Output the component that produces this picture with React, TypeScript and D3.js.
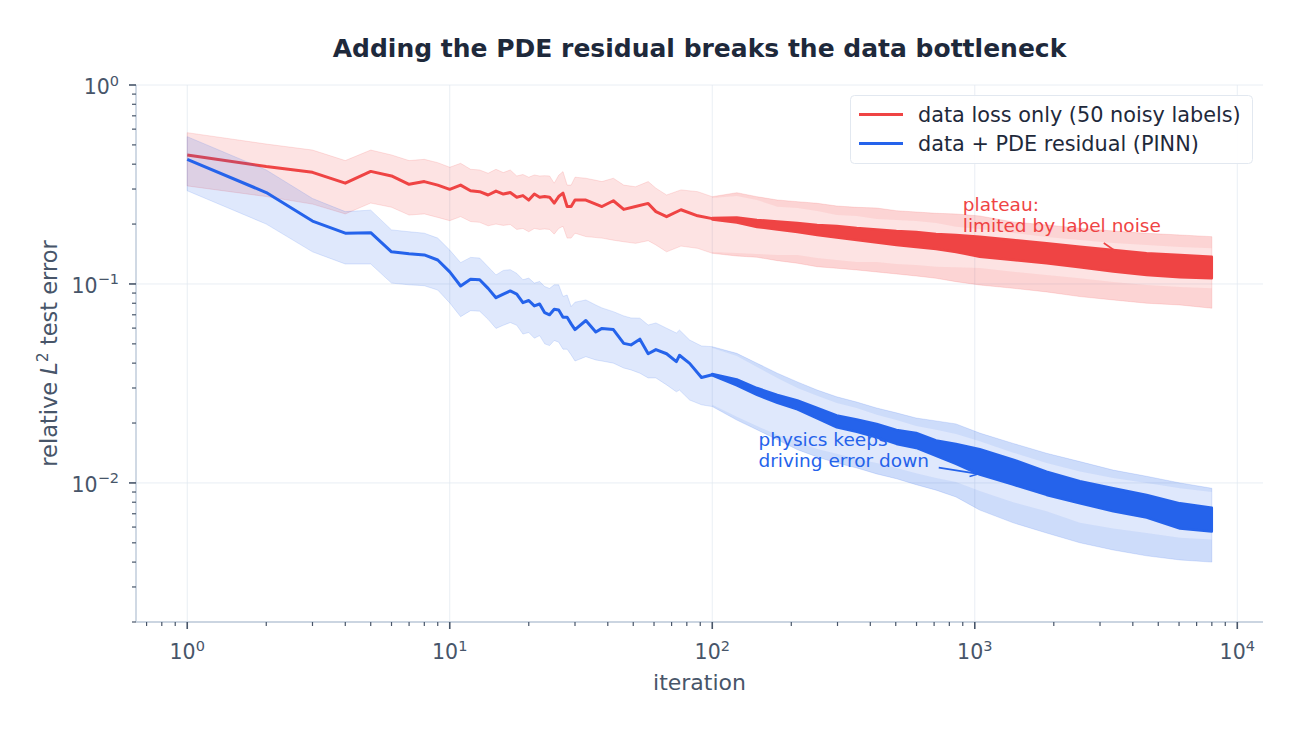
import * as d3 from "d3";

// ---- data (iteration vs relative L2 test error) ----

// sparse early part, one point per logged iteration
const redEarlyIter = [
  1, 2, 3, 4, 5, 6, 7, 8, 9, 10, 11, 12, 13, 14, 15, 16, 17, 18, 19, 20, 21, 22, 23, 24, 25, 26, 27, 28, 29, 30,
  33, 38, 42, 46, 51, 57, 61, 67, 76, 88, 100,
];
const redEarlyLine = [
  0.445, 0.389, 0.364, 0.321, 0.368, 0.349, 0.317, 0.327, 0.314, 0.299, 0.314, 0.294, 0.291, 0.28, 0.293,
  0.283, 0.288, 0.273, 0.278, 0.264, 0.283, 0.273, 0.275, 0.273, 0.255, 0.275, 0.286, 0.245, 0.245, 0.264,
  0.264, 0.245, 0.262, 0.237, 0.245, 0.254, 0.231, 0.218, 0.236, 0.22, 0.213,
];
const redEarlyUp = [
  0.576, 0.505, 0.471, 0.417, 0.471, 0.445, 0.417, 0.423, 0.407, 0.386, 0.404, 0.377, 0.374, 0.36, 0.377,
  0.363, 0.374, 0.349, 0.355, 0.344, 0.353, 0.349, 0.35, 0.349, 0.321, 0.352, 0.367, 0.314, 0.314, 0.344,
  0.34, 0.327, 0.34, 0.314, 0.308, 0.327, 0.303, 0.28, 0.297, 0.291, 0.2746,
];
const redEarlyLo = [
  0.311, 0.275, 0.252, 0.225, 0.255, 0.243, 0.222, 0.225, 0.216, 0.208, 0.218, 0.206, 0.204, 0.196, 0.2,
  0.197, 0.199, 0.188, 0.19, 0.183, 0.19, 0.188, 0.189, 0.188, 0.178, 0.19, 0.195, 0.17, 0.17, 0.18,
  0.173, 0.17, 0.166, 0.163, 0.16, 0.165, 0.157, 0.145, 0.155, 0.151, 0.1426,
];

const blueEarlyIter = [
  1, 2, 3, 4, 5, 6, 7, 8, 9, 10, 11, 12, 13, 14, 15, 16, 17, 18, 19, 20, 21, 22, 23, 24, 25, 26, 27, 28, 29, 30,
  33, 36, 38, 42, 46, 49, 53, 57, 61, 67, 73, 75, 82, 91, 100,
];
const blueEarlyLine = [
  0.423, 0.288, 0.207, 0.18, 0.181, 0.145, 0.142, 0.14, 0.132, 0.115, 0.0977, 0.1057, 0.105, 0.095, 0.0853,
  0.089, 0.0922, 0.089, 0.0805, 0.0826, 0.0776, 0.0793, 0.0717, 0.07, 0.0746, 0.074, 0.068, 0.068, 0.063, 0.059,
  0.0655, 0.0574, 0.0598, 0.059, 0.0503, 0.0494, 0.0528, 0.0446, 0.0468, 0.0446, 0.0407, 0.0438, 0.0399, 0.0339, 0.035,
];
const blueEarlyUp = [
  0.55, 0.374, 0.269, 0.231, 0.235, 0.187, 0.183, 0.18, 0.17, 0.148, 0.128, 0.136, 0.135, 0.122, 0.111,
  0.117, 0.118, 0.113, 0.105, 0.107, 0.101, 0.103, 0.097, 0.095, 0.099, 0.099, 0.0866, 0.088, 0.077, 0.081,
  0.0831, 0.0784, 0.0758, 0.0726, 0.0691, 0.0675, 0.0673, 0.0622, 0.0637, 0.0599, 0.0567, 0.0587, 0.0523, 0.0488, 0.0484,
];
const blueEarlyLo = [
  0.294, 0.2, 0.145, 0.126, 0.126, 0.101, 0.099, 0.098, 0.0932, 0.0803, 0.0685, 0.0734, 0.073, 0.0664, 0.0598,
  0.062, 0.064, 0.062, 0.056, 0.057, 0.0534, 0.055, 0.05, 0.049, 0.052, 0.051, 0.047, 0.047, 0.044, 0.041,
  0.0431, 0.0415, 0.041, 0.04, 0.0378, 0.037, 0.0356, 0.0337, 0.0337, 0.0311, 0.0287, 0.0293, 0.0261, 0.0247, 0.0242,
];

// dense part (every iteration logged): envelopes of the noisy curve and of its band
const denseIter = [100, 124, 148, 177, 211, 251, 298, 355, 423, 503, 598, 712, 848, 1045, 1401, 1877, 2515, 3370, 4515, 6050, 8000];

const redBandUpOuter = [0.2746, 0.2876, 0.2746, 0.2643, 0.2592, 0.2544, 0.2466, 0.2428, 0.2409, 0.2335, 0.23, 0.2266, 0.2248, 0.2197, 0.2049, 0.1979, 0.1905, 0.1846, 0.1797, 0.1763, 0.1729];
const redBandUpInner = [0.2705, 0.2768, 0.2643, 0.2446, 0.2409, 0.2327, 0.2222, 0.2197, 0.2122, 0.2097, 0.2073, 0.2025, 0.194, 0.1889, 0.1804, 0.1722, 0.1664, 0.1607, 0.157, 0.1534, 0.1511];
const redLineHi = [0.2147, 0.2159, 0.2099, 0.2062, 0.2025, 0.1979, 0.1957, 0.1912, 0.1879, 0.1846, 0.1825, 0.1783, 0.1763, 0.1729, 0.1664, 0.1602, 0.1539, 0.1482, 0.1426, 0.1398, 0.1371];
const redLineLo = [0.2109, 0.2037, 0.1934, 0.1879, 0.1825, 0.1763, 0.1713, 0.1664, 0.1616, 0.157, 0.1535, 0.1499, 0.1448, 0.1371, 0.132, 0.1271, 0.1213, 0.1153, 0.111, 0.108, 0.1068];
const redBandLoInner = [0.1448, 0.1431, 0.1415, 0.14, 0.1398, 0.1351, 0.132, 0.129, 0.129, 0.126, 0.1246, 0.1221, 0.1215, 0.1203, 0.1153, 0.111, 0.1068, 0.1023, 0.0988, 0.0966, 0.0951];
const redBandLoOuter = [0.1426, 0.1382, 0.1362, 0.131, 0.1271, 0.1221, 0.1199, 0.1176, 0.1149, 0.1123, 0.1097, 0.1068, 0.1027, 0.0988, 0.0951, 0.0912, 0.0864, 0.0831, 0.08, 0.0784, 0.0755];

const blueBandUpOuter = [0.0484, 0.0448, 0.04, 0.0356, 0.0322, 0.0293, 0.0271, 0.0255, 0.0238, 0.0225, 0.0212, 0.0205, 0.0198, 0.0178, 0.0158, 0.0141, 0.0128, 0.0116, 0.0108, 0.01, 0.0094];
const blueBandUpInner = [0.0477, 0.0435, 0.0383, 0.0337, 0.03, 0.0274, 0.0252, 0.0238, 0.022, 0.0207, 0.0193, 0.0185, 0.0176, 0.0162, 0.0142, 0.0126, 0.0114, 0.0106, 0.01, 0.0094, 0.009];
const blueLineHi = [0.03529, 0.03312, 0.03, 0.02769, 0.02598, 0.02381, 0.02183, 0.02085, 0.01979, 0.01847, 0.01784, 0.01635, 0.0157, 0.0148, 0.0131, 0.0114, 0.0102, 0.0094, 0.0087, 0.0079, 0.0075];
const blueLineLo = [0.03469, 0.0309, 0.02769, 0.02523, 0.0234, 0.02109, 0.01901, 0.01804, 0.01693, 0.0157, 0.01499, 0.01367, 0.01246, 0.011, 0.0098, 0.0087, 0.0079, 0.0072, 0.0067, 0.0059, 0.0057];
const blueBandLoInner = [0.0247, 0.0215, 0.0193, 0.0174, 0.0161, 0.0148, 0.014, 0.0132, 0.0126, 0.0119, 0.0112, 0.0106, 0.0101, 0.0091, 0.008, 0.0072, 0.0063, 0.0059, 0.0056, 0.0053, 0.0052];
const blueBandLoOuter = [0.0242, 0.0207, 0.0185, 0.0165, 0.0147, 0.0135, 0.0126, 0.0119, 0.0111, 0.0105, 0.0098, 0.0092, 0.0085, 0.0073, 0.0063, 0.0056, 0.005, 0.0046, 0.0043, 0.0041, 0.004];

const xMajor = [1, 10, 100, 1000, 10000];
const xMajorExp = ["0", "1", "2", "3", "4"];
const yMajor = [0.01, 0.1, 1];
const yMajorExp = ["\u22122", "\u22121", "0"];

const seriesNames = ["data loss only (50 noisy labels)", "data + PDE residual (PINN)"];

// annotations: text anchor (iteration, value) and arrow tail -> head
const plateauLines = ["plateau:", "limited by label noise"];
const plateauAt = [900, 0.233];
const plateauArrow = [3100, 0.1607, 4000, 0.1275];
const physicsLines = ["physics keeps", "driving error down"];
const physicsAt = [150, 0.0153];
const physicsArrow = [729, 0.01194, 1030, 0.0111];

// ---- layout ----
const width = 1300;
const height = 732;
const plot = { left: 136, right: 1263, top: 85, bottom: 622 };

const RED = "#ef4444";
const BLUE = "#2563eb";
const FONT = "DejaVu Sans, sans-serif";

const x = d3.scaleLog().domain([0.638, 12530]).range([plot.left, plot.right]);
const y = d3.scaleLog().domain([0.002, 1]).range([plot.bottom, plot.top]);

function bandPath(iters: number[], hi: number[], lo: number[]) {
  return d3
    .area<number>()
    .x((_, i) => x(iters[i]))
    .y0((_, i) => y(lo[i]))
    .y1((d) => y(d))(hi) as string;
}

function linePath(iters: number[], vals: number[]) {
  return d3
    .line<number>()
    .x((_, i) => x(iters[i]))
    .y((d) => y(d))(vals) as string;
}

function Series({
  color,
  earlyIter,
  earlyLine,
  earlyUp,
  earlyLo,
  upOuter,
  upInner,
  lineHi,
  lineLo,
  loInner,
  loOuter,
}: {
  color: string;
  earlyIter: number[];
  earlyLine: number[];
  earlyUp: number[];
  earlyLo: number[];
  upOuter: number[];
  upInner: number[];
  lineHi: number[];
  lineLo: number[];
  loInner: number[];
  loOuter: number[];
}) {
  const allIter = [...earlyIter, ...denseIter.slice(1)];
  const allUp = [...earlyUp, ...upOuter.slice(1)];
  const allLo = [...earlyLo, ...loOuter.slice(1)];
  return (
    <g>
      <path d={bandPath(allIter, allUp, allLo)} fill={color} fillOpacity={0.15} stroke={color} strokeOpacity={0.15} strokeWidth={1} />
      <path d={bandPath(denseIter, upOuter, upInner)} fill={color} fillOpacity={0.09} />
      <path d={bandPath(denseIter, loInner, loOuter)} fill={color} fillOpacity={0.09} />
      <path d={linePath(earlyIter, earlyLine)} fill="none" stroke={color} strokeWidth={3} strokeLinejoin="round" />
      <path d={bandPath(denseIter, lineHi, lineLo)} fill={color} stroke={color} strokeWidth={2.4} strokeLinejoin="round" />
    </g>
  );
}

function Annotation({ lines, at, arrow, color }: { lines: string[]; at: number[]; arrow: number[]; color: string }) {
  const x1 = x(arrow[0]);
  const y1 = y(arrow[1]);
  const x2 = x(arrow[2]);
  const y2 = y(arrow[3]);
  const ang = Math.atan2(y2 - y1, x2 - x1);
  const hl = 9;
  const p1 = [x2 - hl * Math.cos(ang - 0.45), y2 - hl * Math.sin(ang - 0.45)];
  const p2 = [x2 - hl * Math.cos(ang + 0.45), y2 - hl * Math.sin(ang + 0.45)];
  return (
    <g>
      {lines.map((t, i) => (
        <text key={t} x={x(at[0])} y={y(at[1]) + i * 21} fill={color} fontSize={18.5} fontFamily={FONT}>
          {t}
        </text>
      ))}
      <line x1={x1} y1={y1} x2={x2} y2={y2} stroke={color} strokeWidth={1.6} />
      <polyline points={`${p1[0]},${p1[1]} ${x2},${y2} ${p2[0]},${p2[1]}`} fill="none" stroke={color} strokeWidth={1.6} />
    </g>
  );
}

export default function App() {
  const xTicks = x.ticks();
  const yTicks = y.ticks();
  const isMajor = (v: number) => Math.abs(Math.log10(v) - Math.round(Math.log10(v))) < 1e-9;
  const xMinor = xTicks.filter((v) => !isMajor(v));
  const yMinor = yTicks.filter((v) => !isMajor(v));

  return (
    <svg
      width={width}
      height={height}
      style={{ position: "absolute", left: 0, top: 0, background: "#fff" }}
      fontFamily={FONT}
    >
      <rect width={width} height={height} fill="#fff" />

      {/* grid */}
      {xMajor.map((v) => (
        <line key={`gx${v}`} x1={x(v)} x2={x(v)} y1={plot.top} y2={plot.bottom} stroke="#e2e8f0" strokeOpacity={0.75} strokeWidth={1} />
      ))}
      {yMajor.map((v) => (
        <line key={`gy${v}`} x1={plot.left} x2={plot.right} y1={y(v)} y2={y(v)} stroke="#e2e8f0" strokeOpacity={0.75} strokeWidth={1} />
      ))}

      <Annotation lines={plateauLines} at={plateauAt} arrow={plateauArrow} color={RED} />
      <Annotation lines={physicsLines} at={physicsAt} arrow={physicsArrow} color={BLUE} />

      <Series
        color={RED}
        earlyIter={redEarlyIter}
        earlyLine={redEarlyLine}
        earlyUp={redEarlyUp}
        earlyLo={redEarlyLo}
        upOuter={redBandUpOuter}
        upInner={redBandUpInner}
        lineHi={redLineHi}
        lineLo={redLineLo}
        loInner={redBandLoInner}
        loOuter={redBandLoOuter}
      />
      <Series
        color={BLUE}
        earlyIter={blueEarlyIter}
        earlyLine={blueEarlyLine}
        earlyUp={blueEarlyUp}
        earlyLo={blueEarlyLo}
        upOuter={blueBandUpOuter}
        upInner={blueBandUpInner}
        lineHi={blueLineHi}
        lineLo={blueLineLo}
        loInner={blueBandLoInner}
        loOuter={blueBandLoOuter}
      />

      {/* spines */}
      <line x1={plot.left} x2={plot.left} y1={plot.top} y2={plot.bottom} stroke="#cbd5e1" strokeWidth={1.8} />
      <line x1={plot.left} x2={plot.right} y1={plot.bottom} y2={plot.bottom} stroke="#cbd5e1" strokeWidth={1.8} />

      {/* x ticks */}
      {xMinor.map((v) => (
        <line key={`xm${v}`} x1={x(v)} x2={x(v)} y1={plot.bottom} y2={plot.bottom + 4} stroke="#475569" strokeWidth={1.2} />
      ))}
      {xMajor.map((v, i) => (
        <g key={`xM${v}`}>
          <line x1={x(v)} x2={x(v)} y1={plot.bottom} y2={plot.bottom + 7} stroke="#475569" strokeWidth={1.6} />
          <text x={x(v)} y={659} textAnchor="middle" fontSize={20.5} fill="#475569">
            10<tspan dy={-8.5} fontSize={14.5}>{xMajorExp[i]}</tspan>
          </text>
        </g>
      ))}

      {/* y ticks */}
      {yMinor.map((v) => (
        <line key={`ym${v}`} x1={plot.left - 4} x2={plot.left} y1={y(v)} y2={y(v)} stroke="#475569" strokeWidth={1.2} />
      ))}
      {yMajor.map((v, i) => (
        <g key={`yM${v}`}>
          <line x1={plot.left - 7} x2={plot.left} y1={y(v)} y2={y(v)} stroke="#475569" strokeWidth={1.6} />
          <text x={119} y={y(v) + 9} textAnchor="end" fontSize={20.5} fill="#475569">
            10<tspan dy={-8.5} fontSize={14.5}>{yMajorExp[i]}</tspan>
          </text>
        </g>
      ))}

      {/* axis labels */}
      <text x={(plot.left + plot.right) / 2} y={690} textAnchor="middle" fontSize={22} fill="#475569">
        iteration
      </text>
      <text
        transform={`translate(57, ${(plot.top + plot.bottom) / 2}) rotate(-90)`}
        textAnchor="middle"
        fontSize={22.5}
        fill="#475569"
      >
        relative <tspan fontStyle="italic">L</tspan>
        <tspan dy={-9} fontSize={15.5}>2</tspan>
        <tspan dy={9}> test error</tspan>
      </text>

      {/* title */}
      <text x={(plot.left + plot.right) / 2} y={57} textAnchor="middle" fontSize={25} fontWeight="bold" fill="#1e293b">
        Adding the PDE residual breaks the data bottleneck
      </text>

      {/* legend */}
      <g>
        <rect x={850.5} y={95.5} width={402} height={68} rx={4} fill="#fff" fillOpacity={0.9} stroke="#e2e8f0" strokeWidth={1} />
        {[RED, BLUE].map((c, i) => (
          <g key={c}>
            <line x1={859} x2={903} y1={114.5 + i * 29} y2={114.5 + i * 29} stroke={c} strokeWidth={3} />
            <text x={918} y={121.5 + i * 29} fontSize={20.8} fill="#1e293b">
              {seriesNames[i]}
            </text>
          </g>
        ))}
      </g>
    </svg>
  );
}
